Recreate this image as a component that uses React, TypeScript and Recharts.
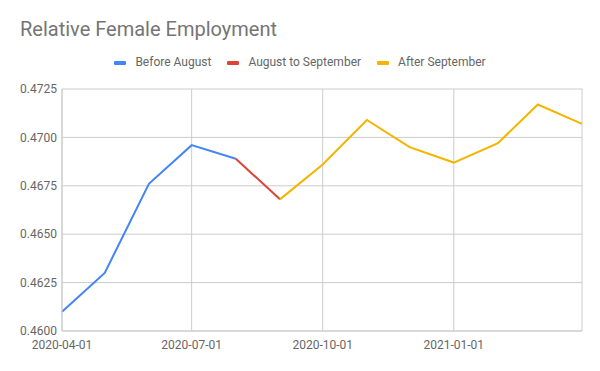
import React from 'react';
import { LineChart, Line, XAxis, YAxis, CartesianGrid } from 'recharts';

const months = [
  '2020-04-01', '2020-05-01', '2020-06-01', '2020-07-01', '2020-08-01', '2020-09-01', '2020-10-01',
  '2020-11-01', '2020-12-01', '2021-01-01', '2021-02-01', '2021-03-01', '2021-04-01',
];
const employment = [
  0.4610, 0.4630, 0.4676, 0.4696, 0.4689, 0.4668, 0.4686,
  0.4709, 0.4695, 0.4687, 0.4697, 0.4717, 0.4707,
];

// which months belong to each coloured segment (they share the joining month)
const beforeAugust = months.slice(0, 5);
const augustToSeptember = months.slice(4, 6);
const afterSeptember = months.slice(5);

const xTickLabels = ['2020-04-01', '2020-07-01', '2020-10-01', '2021-01-01', '2021-04-01'];
const yTicks = [0.46, 0.4625, 0.465, 0.4675, 0.47, 0.4725];

const series = [
  { key: 'before', name: 'Before August', color: '#4285F4', months: beforeAugust },
  { key: 'augsep', name: 'August to September', color: '#DB4437', months: augustToSeptember },
  { key: 'after', name: 'After September', color: '#F4B400', months: afterSeptember },
];

const toTime = (s: string) => Date.parse(s + 'T00:00:00Z');
const fmtDate = (t: number) => new Date(t).toISOString().slice(0, 10);

const data = months.map((m, i) => {
  const row: Record<string, number | undefined> = { t: toTime(m) };
  series.forEach((s) => {
    row[s.key] = s.months.includes(m) ? employment[i] : undefined;
  });
  return row;
});

const xTicks = xTickLabels.map(toTime);
const lastTick = xTicks[xTicks.length - 1];

const App = () => {
  return (
    <div style={{ position: 'absolute', left: 0, top: 0, width: 600, height: 371, fontFamily: 'Roboto, sans-serif', background: '#fff' }}>
      <div style={{ position: 'absolute', left: 20, top: 17, fontSize: 20, color: '#757575' }}>
        Relative Female Employment
      </div>
      <div
        style={{
          position: 'absolute', left: 0, top: 55, width: 600, display: 'flex',
          justifyContent: 'center', fontSize: 12, color: '#666', lineHeight: '15px',
        }}
      >
        {series.map((s, i) => (
          <div key={s.key} style={{ display: 'flex', alignItems: 'center', marginLeft: i === 0 ? 0 : 16 }}>
            <span style={{ display: 'inline-block', width: 12, height: 4, borderRadius: 1, background: s.color, marginRight: 9 }} />
            <span>{s.name}</span>
          </div>
        ))}
      </div>
      <LineChart width={600} height={371} data={data} margin={{ top: 89, right: 18, bottom: 10, left: 12 }}>
        <CartesianGrid stroke="#cccccc" />
        <XAxis
          dataKey="t"
          type="number"
          domain={[xTicks[0], lastTick]}
          ticks={xTicks}
          interval={0}
          tickFormatter={(v: number) => (v === lastTick ? '' : fmtDate(v))}
          height={30}
          tickLine={false}
          tickSize={0}
          tickMargin={9}
          axisLine={{ stroke: '#cccccc' }}
          tick={{ fill: '#666', fontSize: 12 }}
        />
        <YAxis
          type="number"
          domain={[0.46, 0.4725]}
          ticks={yTicks}
          tickFormatter={(v: number) => v.toFixed(4)}
          width={50}
          tickLine={false}
          tickSize={0}
          tickMargin={5}
          axisLine={{ stroke: '#cccccc' }}
          tick={{ fill: '#666', fontSize: 12 }}
        />
        {series.map((s) => (
          <Line
            key={s.key}
            dataKey={s.key}
            name={s.name}
            type="linear"
            stroke={s.color}
            strokeWidth={2}
            dot={false}
            isAnimationActive={false}
          />
        ))}
      </LineChart>
    </div>
  );
};

export default App;
